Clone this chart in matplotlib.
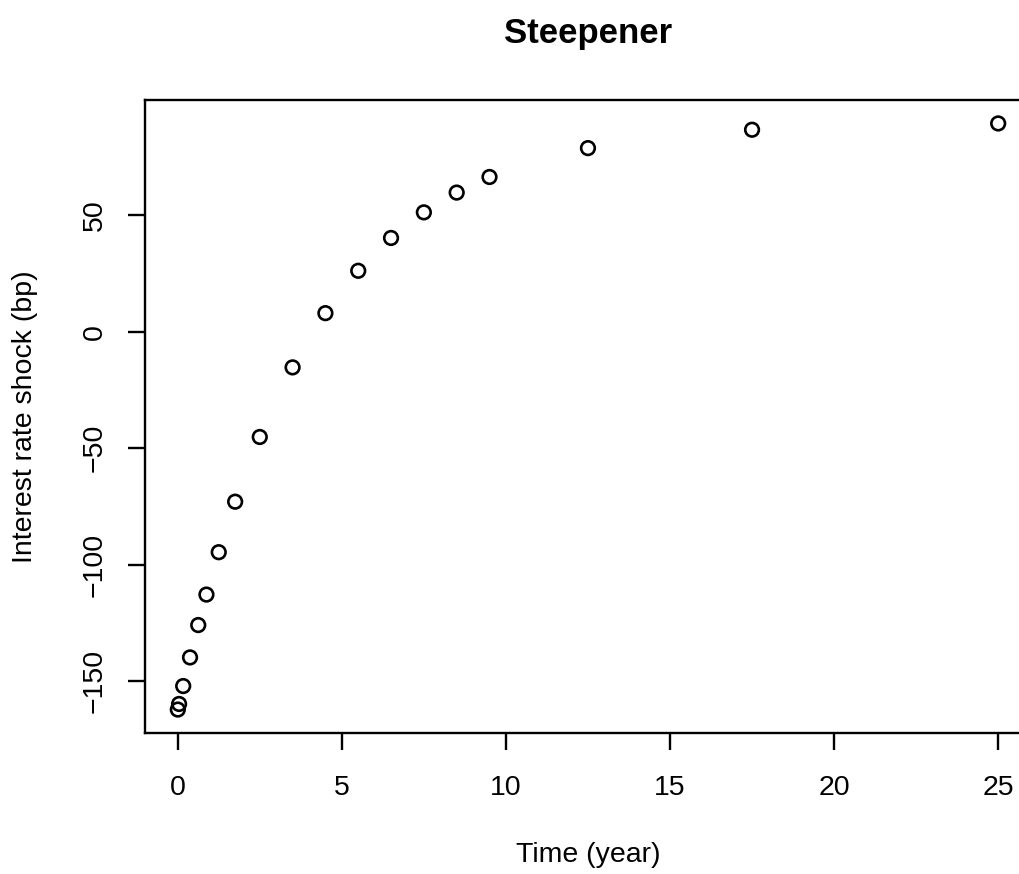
"""
Steepener interest rate shock per time bucket, drawn as open circles
in the style of an R base-graphics scatter plot.
"""

import matplotlib

matplotlib.use("Agg")
import matplotlib.pyplot as plt

# bucket midpoints (years) and shock size (basis points)
tiempo = [0.0028, 0.0417, 0.1667, 0.375, 0.625, 0.875, 1.25, 1.75, 2.5,
          3.5, 4.5, 5.5, 6.5, 7.5, 8.5, 9.5, 12.5, 17.5, 25.0]
shock = [-162.3, -159.9, -152.2, -139.9, -126.0, -112.9, -94.7, -73.0, -45.2,
         -15.3, 8.0, 26.2, 40.3, 51.3, 59.8, 66.5, 78.9, 86.8, 89.5]

x_ticks = [0, 5, 10, 15, 20, 25]
y_ticks = [-150, -100, -50, 0, 50]

titulo = "Steepener"
x_label = "Time (year)"
y_label = "Interest rate shock (bp)"

plt.rcParams["font.family"] = ["Liberation Sans", "DejaVu Sans"]

W, H = 1020, 874
fig = plt.figure(figsize=(W / 100, H / 100), dpi=100)

# plot region in pixels: left 145, right 1031 (runs off the canvas), top 100, bottom 733
izq, der, arr, aba = 145, 1031, 100, 733
ax = fig.add_axes([izq / W, 1 - aba / H, (der - izq) / W, (aba - arr) / H])

ax.scatter(tiempo, shock, s=9.8 ** 2, facecolors="none", edgecolors="black",
           linewidths=1.9, zorder=3, clip_on=False)

# R pads the data range by 4% on each side
ax.margins(x=0.04, y=0.04)

ax.set_xticks(x_ticks)
ax.set_yticks(y_ticks)
ax.set_yticklabels([str(v).replace("-", "\u2212") for v in y_ticks])
ax.tick_params(axis="both", direction="out", length=12, width=1.7,
               labelsize=20.5, colors="black")
ax.tick_params(axis="x", pad=18)
ax.tick_params(axis="y", pad=15, labelrotation=90)
for lab in ax.get_yticklabels():
    lab.set_verticalalignment("center")

for sp in ax.spines.values():
    sp.set_linewidth(1.7)
    sp.set_color("black")

ax.set_xlabel(x_label, fontsize=20.5)
ax.xaxis.set_label_coords(0.5, -(855 - aba) / (aba - arr))
ax.xaxis.label.set_verticalalignment("center")

ax.set_ylabel(y_label, fontsize=20.5)
ax.yaxis.set_label_coords(-(izq - 25) / (der - izq), 0.5)
ax.yaxis.label.set_verticalalignment("center")

ax.set_title(titulo, fontsize=25, fontweight="bold", pad=0,
             y=1 + (arr - 33) / (aba - arr), va="center")

fig.savefig("out.png", dpi=100, facecolor="white")
plt.close(fig)
